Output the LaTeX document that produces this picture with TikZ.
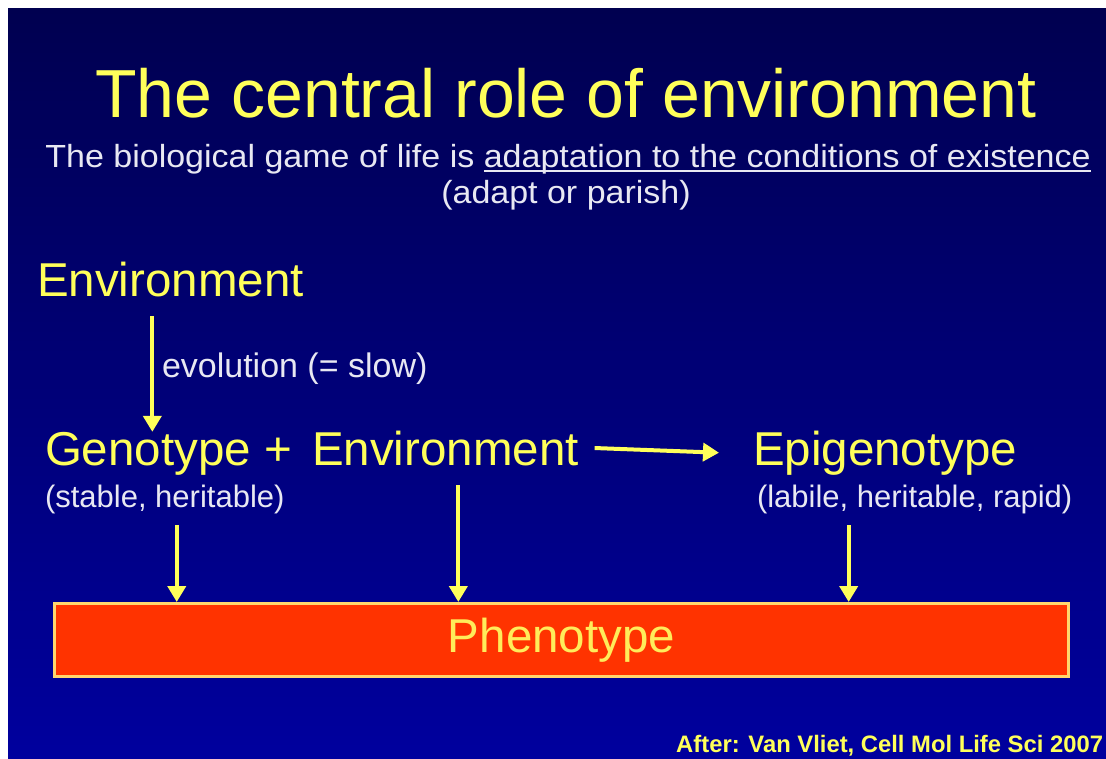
\documentclass[tikz,border=0pt]{standalone}
\usepackage{fontspec}
\setmainfont{Liberation Sans}
\usetikzlibrary{arrows.meta}
\definecolor{ylw}{RGB}{255,255,90}
\definecolor{wht}{RGB}{232,232,242}
\definecolor{navytop}{RGB}{0,0,80}
\definecolor{navybot}{RGB}{0,0,158}
\definecolor{phenofill}{RGB}{255,51,0}
\definecolor{phenoedge}{RGB}{255,214,110}
\definecolor{phenotext}{RGB}{255,236,90}
\newcommand\myul[1]{\setbox0\hbox{#1}\rlap{\rule[-4.5bp]{\wd0}{1.8bp}}#1}
\tikzset{
  txt/.style={inner sep=0pt, outer sep=0pt},
  big/.style={txt, text=ylw, font=\fontsize{47.5bp}{50bp}\selectfont},
  small/.style={txt, text=wht, font=\fontsize{#1}{36bp}\selectfont},
  small/.default=34bp,
  arr/.style={draw=ylw, line width=4bp, -{Triangle[width=18bp,length=16bp]}},
}
\begin{document}
\begin{tikzpicture}[x=1bp,y=-1bp]
\useasboundingbox (0,0) rectangle (1106,759);
\fill[white] (0,0) rectangle (1106,759);
\shade[top color=navytop, bottom color=navybot] (8,9) rectangle (1106,759);

\node[txt, text=ylw, font=\fontsize{68bp}{70bp}\selectfont, anchor=base] (title) at (566,117) {The central role of environment};
\node[small=32bp, xscale=1.0625, anchor=base] (subtitle) at (568,167) {The biological game of life is \myul{adaptation to the conditions of existence}};
\node[small=32bp, xscale=1.0625, anchor=base] (adapt) at (566,203) {(adapt or parish)};

\node[big, anchor=base west] (env) at (37,296) {Environment};
\node[small, anchor=base west] (evo) at (162,377) {evolution (= slow)};
\node[big, anchor=base west] (geno) at (45,465) {Genotype +};
\node[big, anchor=base west] (env2) at (312,465) {Environment};
\node[big, anchor=base west] (epi) at (753,465) {Epigenotype};
\node[small=31bp, anchor=base west] (stable) at (45,507) {(stable, heritable)};
\node[small=31bp, anchor=base west] (labile) at (757,507) {(labile, heritable, rapid)};

\node[draw=phenoedge, line width=3bp, fill=phenofill, minimum width=1013bp, minimum height=73bp, inner sep=0pt, text=phenotext, font=\fontsize{47.5bp}{50bp}\selectfont] (pheno) at (561.5,640) {Phenotype};

\node[txt, text=ylw, font=\bfseries\fontsize{23.8bp}{26bp}\selectfont, anchor=base east] (cite) at (1103,752) {After: Van Vliet, Cell Mol Life Sci 2007};

\draw[arr] ([xshift=-18bp,yshift=-20bp]env.south) -- ([xshift=-18bp]env.south |- geno.north);
\draw[arr] ([xshift=16bp]env2.east) -- ([xshift=-34bp]epi.west);
\draw[arr] ([xshift=12bp,yshift=-12bp]stable.south) -- ([xshift=12bp]stable.south |- pheno.north);
\draw[arr] ([xshift=13bp,yshift=-20bp]env2.south) -- ([xshift=13bp]env2.south |- pheno.north);
\draw[arr] ([xshift=-66bp,yshift=-12bp]labile.south) -- ([xshift=-66bp]labile.south |- pheno.north);
\end{tikzpicture}
\end{document}
